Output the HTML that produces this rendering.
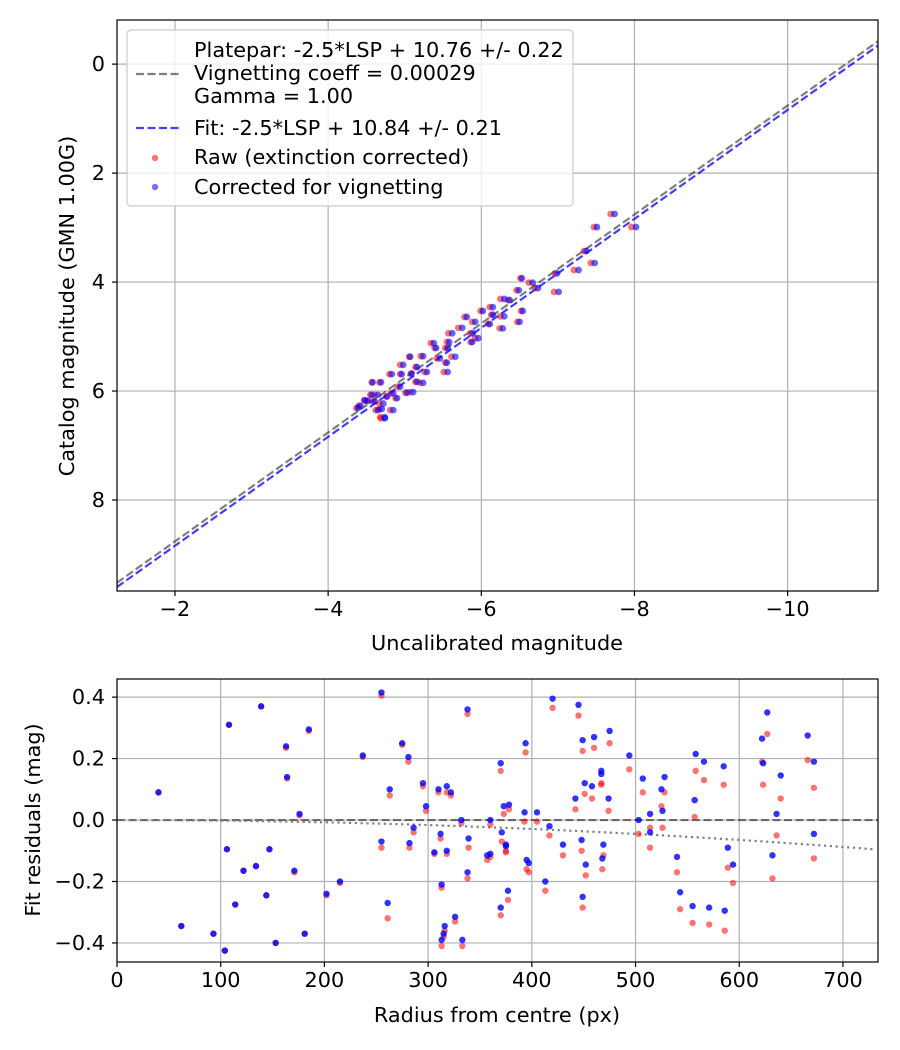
<!DOCTYPE html>
<html><head><meta charset="utf-8"><style>
html,body{margin:0;padding:0;background:#fff;}
svg{display:block;font-family:"DejaVu Sans","Liberation Sans",sans-serif;}
</style></head><body>
<svg id="fig" width="900" height="1050" viewBox="0 0 900 1050" xmlns="http://www.w3.org/2000/svg">
<rect width="900" height="1050" fill="#fff"/>
<g id="topPlot"></g>
<g id="botPlot"></g>
</svg>
<script>
// ---------- Top chart data ----------
const topXTicks = [-2, -4, -6, -8, -10];
const topYTicks = [0, 2, 4, 6, 8];
const plateparOffset = 10.76;
const fitOffset = 10.84;
const vignettingCoeff = 0.00029;
const uncalCorr = [-7.74,-7.51,-8.02,-7.37,-7.48,-7.27,-7.01,-6.99,-6.53,-6.67,-6.74,-6.49,-6.54,-6.50,-6.28,-6.30,-6.37,-6.15,-6.02,-6.30,-6.15,-5.81,-5.92,-5.75,-6.11,-5.89,-5.96,-5.88,-5.62,-5.58,-5.38,-5.41,-5.56,-5.66,-5.46,-5.55,-5.24,-5.07,-4.98,-5.16,-5.29,-5.56,-5.09,-4.96,-4.83,-5.24,-5.16,-4.58,-4.69,-4.94,-5.11,-5.03,-4.85,-4.77,-4.90,-4.65,-4.61,-4.52,-4.72,-4.85,-4.70,-4.74,-4.42,-4.48,-4.57,-4.74,-4.65,-4.39];
const catMag = [2.75,2.99,2.99,3.43,3.65,3.78,4.18,3.84,3.93,4.01,4.11,4.15,4.53,4.73,4.85,4.31,4.33,4.46,4.53,4.63,4.60,4.64,4.73,4.84,4.77,4.94,5.03,5.10,4.94,5.10,5.12,5.21,5.21,5.37,5.40,5.48,5.36,5.37,5.52,5.56,5.65,5.65,5.68,5.69,5.69,5.85,5.83,5.84,5.84,5.92,6.02,6.03,6.04,6.10,6.13,6.07,6.19,6.18,6.23,6.35,6.33,6.48,6.27,6.17,6.07,6.50,6.35,6.31];
const vigShift = [0.05,0.04,0.06,0.03,0.05,0.06,0.06,0.03,0.02,0.05,0.04,0.03,0.02,0.03,0.04,0.05,0.02,0.04,0.03,0.05,0.02,0.03,0.04,0.05,0.02,0.03,0.04,0.02,0.05,0.03,0.04,0.02,0.03,0.05,0.04,0.02,0.03,0.01,0.04,0.02,0.03,0.05,0.01,0.02,0.03,0.04,0.02,0.01,0.02,0.03,0.04,0.02,0.03,0.01,0.02,0.04,0.03,0.02,0.05,0.04,0.03,0.06,0.02,0.01,0.02,0.05,0.03,0.02];

// ---------- Bottom chart data ----------
const botXTicks = [0,100,200,300,400,500,600,700];
const botYTicks = [-0.4,-0.2,0.0,0.2,0.4];
const radius = [40,62,93,104,106,108,114,122,134,139,144,147,153,163,164,171,176,181,185,202,215,237,255,255,261,263,275,281,282,286,295,298,306,310,312,313,313,315,316,318,318,322,326,332,333,338,338,339,357,360,360,370,370,373,375,377,378,371,375,394,393,405,417,395,397,413,420,445,449,460,475,467,467,451,458,442,474,430,448,469,468,452,449,494,507,528,525,503,514,526,514,540,543,555,571,586,589,594,558,566,585,557,627,622,623,640,636,632,666,672,672];
const resCorr = [0.09,-0.345,-0.37,-0.425,-0.095,0.31,-0.275,-0.165,-0.15,0.37,-0.245,-0.095,-0.40,0.24,0.14,-0.165,0.02,-0.37,0.295,-0.24,-0.20,0.21,0.415,-0.07,-0.27,0.10,0.25,0.205,-0.075,-0.025,0.12,0.045,-0.105,0.10,-0.045,-0.21,-0.39,-0.37,-0.345,0.11,-0.10,0.09,-0.315,0.0,-0.39,0.36,-0.17,-0.06,-0.115,-0.11,0.0,0.185,-0.285,0.045,-0.085,-0.23,0.05,-0.04,-0.08,0.25,0.025,0.025,-0.02,-0.13,-0.14,-0.20,0.395,0.375,0.26,0.27,0.29,0.16,0.15,0.12,0.11,0.07,0.07,-0.08,-0.065,-0.08,-0.125,-0.145,-0.25,0.21,0.135,0.14,0.10,0.0,0.02,0.03,-0.04,-0.12,-0.235,-0.28,-0.285,-0.295,-0.09,-0.145,0.215,0.19,0.175,0.065,0.35,0.265,0.185,0.145,0.02,-0.115,0.275,0.19,-0.045];
const resRaw = [0.09,-0.345,-0.37,-0.425,-0.095,0.31,-0.275,-0.165,-0.15,0.37,-0.245,-0.095,-0.40,0.235,0.135,-0.17,0.015,-0.37,0.29,-0.245,-0.205,0.205,0.405,-0.09,-0.32,0.08,0.245,0.19,-0.09,-0.04,0.11,0.03,-0.11,0.09,-0.06,-0.22,-0.41,-0.38,-0.36,0.09,-0.11,0.08,-0.33,-0.01,-0.41,0.345,-0.19,-0.09,-0.13,-0.12,-0.015,0.16,-0.31,0.02,-0.10,-0.26,0.035,-0.07,-0.105,0.22,-0.005,-0.005,-0.05,-0.16,-0.17,-0.23,0.365,0.34,0.225,0.235,0.25,0.12,0.115,0.085,0.07,0.035,0.03,-0.115,-0.10,-0.115,-0.16,-0.18,-0.285,0.165,0.09,0.09,0.045,-0.045,-0.025,-0.025,-0.09,-0.17,-0.29,-0.335,-0.34,-0.36,-0.155,-0.205,0.16,0.13,0.115,0.01,0.28,0.19,0.115,0.07,-0.05,-0.19,0.195,0.105,-0.125];

const NS = "http://www.w3.org/2000/svg";
const FS = 20.8;
function mk(parent, tag, attrs, text){
  const e = document.createElementNS(NS, tag);
  for (const k in attrs) e.setAttribute(k, attrs[k]);
  if (text !== undefined) e.textContent = text;
  parent.appendChild(e);
  return e;
}
function fmtMinus(s){ return String(s).replace('-', '\u2212'); }

// ---------- TOP ----------
const T = {L:117,R:878,T:20,B:591, x0:-1.243, x1:-11.18, y0:-0.81, y1:9.67};
const tx = v => T.L + (v - T.x0)/(T.x1 - T.x0)*(T.R-T.L);
const ty = v => T.T + (v - T.y0)/(T.y1 - T.y0)*(T.B-T.T);
const topG = document.getElementById('topPlot');
mk(topG,'defs',{}).innerHTML = '<clipPath id="ct"><rect x="117" y="20" width="761" height="571"/></clipPath><clipPath id="cb"><rect x="117" y="679" width="761" height="283"/></clipPath>';
const tgrid = mk(topG,'g',{});


topXTicks.forEach(v=>{
  const x=tx(v);
  mk(tgrid,'line',{x1:x,x2:x,y1:T.T,y2:T.B,stroke:'#b0b0b0','stroke-width':1.2});
  mk(topG,'line',{x1:x,x2:x,y1:T.B,y2:T.B+5,stroke:'#000','stroke-width':1.2});
  const t=mk(topG,'text',{x:x,y:T.B+25,'text-anchor':'middle','font-size':FS},fmtMinus(v));
  
  
});
topYTicks.forEach(v=>{
  const y=ty(v);
  mk(tgrid,'line',{x1:T.L,x2:T.R,y1:y,y2:y,stroke:'#b0b0b0','stroke-width':1.2});
  mk(topG,'line',{x1:T.L-5,x2:T.L,y1:y,y2:y,stroke:'#000','stroke-width':1.2});
  const t=mk(topG,'text',{x:T.L-12,y:y+7,'text-anchor':'end','font-size':FS},fmtMinus(v));
  
  
});
const tl = mk(topG,'g',{'clip-path':'url(#ct)'});
const pp = mk(tl,'line',{x1:tx(T.x0),y1:ty(T.x0+plateparOffset),x2:tx(T.x1),y2:ty(T.x1+plateparOffset),stroke:'#000','stroke-opacity':0.5,'stroke-width':2.2,'stroke-dasharray':'8,3.5'});


const fl = mk(tl,'line',{x1:tx(T.x0),y1:ty(T.x0+fitOffset),x2:tx(T.x1),y2:ty(T.x1+fitOffset),stroke:'#0000ff','stroke-opacity':0.75,'stroke-width':2.2,'stroke-dasharray':'8,3.5'});


uncalCorr.forEach((v,i)=>{
  const c=mk(tl,'circle',{cx:tx(v+vigShift[i]),cy:ty(catMag[i]),r:3.4,fill:'#ff0000','fill-opacity':0.55});
  
  
});
uncalCorr.forEach((v,i)=>{
  const c=mk(tl,'circle',{cx:tx(v),cy:ty(catMag[i]),r:3.4,fill:'#0000ff','fill-opacity':0.6});
  
  
});
mk(topG,'rect',{x:T.L,y:T.T,width:T.R-T.L,height:T.B-T.T,fill:'none',stroke:'#000','stroke-width':1.2});
let lab=mk(topG,'text',{x:497,y:650,'text-anchor':'middle','font-size':FS},'Uncalibrated magnitude');


lab=mk(topG,'text',{x:0,y:0,'text-anchor':'middle','font-size':FS,transform:'translate(74,306) rotate(-90)'},'Catalog magnitude (GMN 1.00G)');


const lg = mk(topG,'g',{});


mk(lg,'rect',{x:127,y:30,width:446,height:176,rx:4,fill:'#fff','fill-opacity':0.8,stroke:'#cccccc','stroke-width':1.2});
mk(lg,'line',{x1:136,x2:180,y1:74,y2:74,stroke:'#000','stroke-opacity':0.5,'stroke-width':2.2,'stroke-dasharray':'8,3.5'});
mk(lg,'text',{x:194,y:57,'font-size':FS},'Platepar: -2.5*LSP + 10.76 +/- 0.22');
mk(lg,'text',{x:194,y:80,'font-size':FS},'Vignetting coeff = 0.00029');
mk(lg,'text',{x:194,y:103,'font-size':FS},'Gamma = 1.00');
mk(lg,'line',{x1:136,x2:180,y1:128,y2:128,stroke:'#0000ff','stroke-opacity':0.75,'stroke-width':2.2,'stroke-dasharray':'8,3.5'});
mk(lg,'text',{x:194,y:135,'font-size':FS},'Fit: -2.5*LSP + 10.84 +/- 0.21');
mk(lg,'circle',{cx:155,cy:158,r:3.2,fill:'#ff0000','fill-opacity':0.55});
mk(lg,'text',{x:194,y:164,'font-size':FS},'Raw (extinction corrected)');
mk(lg,'circle',{cx:155,cy:187,r:3.2,fill:'#0000ff','fill-opacity':0.55});
mk(lg,'text',{x:194,y:194,'font-size':FS},'Corrected for vignetting');

// ---------- BOTTOM ----------
const B = {L:117,R:878,T:679,B:962, x0:0, x1:733.8, y0:0.459, y1:-0.462};
const bx = v => B.L + (v - B.x0)/(B.x1 - B.x0)*(B.R-B.L);
const by = v => B.T + (v - B.y0)/(B.y1 - B.y0)*(B.B-B.T);
const botG = document.getElementById('botPlot');
botXTicks.forEach(v=>{
  const x=bx(v);
  mk(botG,'line',{x1:x,x2:x,y1:B.T,y2:B.B,stroke:'#b0b0b0','stroke-width':1.2});
  mk(botG,'line',{x1:x,x2:x,y1:B.B,y2:B.B+5,stroke:'#000','stroke-width':1.2});
  const t=mk(botG,'text',{x:x,y:B.B+25,'text-anchor':'middle','font-size':FS},String(v));
  
  
});
botYTicks.forEach(v=>{
  const y=by(v);
  mk(botG,'line',{x1:B.L,x2:B.R,y1:y,y2:y,stroke:'#b0b0b0','stroke-width':1.2});
  mk(botG,'line',{x1:B.L-5,x2:B.L,y1:y,y2:y,stroke:'#000','stroke-width':1.2});
  const t=mk(botG,'text',{x:B.L-12,y:y+7,'text-anchor':'end','font-size':FS},fmtMinus(v.toFixed(1)));
  
  
});
const bl = mk(botG,'g',{'clip-path':'url(#cb)'});
const zl = mk(bl,'line',{x1:B.L,x2:B.R,y1:by(0),y2:by(0),stroke:'#000','stroke-opacity':0.5,'stroke-width':2.2,'stroke-dasharray':'8,3.5'});


let d='';
for(let r=0;r<=B.x1;r+=5){
  const c=Math.cos(Math.atan(vignettingCoeff*r));
  const m=2.5*Math.log10(Math.pow(c,4));
  d+=(r?'L':'M')+bx(r).toFixed(1)+','+by(m).toFixed(1);
}
const vc = mk(bl,'path',{d:d,fill:'none',stroke:'#808080','stroke-width':2.2,'stroke-dasharray':'2.2,3.6'});


radius.forEach((r,i)=>{
  const c=mk(bl,'circle',{cx:bx(r),cy:by(resRaw[i]),r:3.2,fill:'#ff0000','fill-opacity':0.55});
  
  
});
radius.forEach((r,i)=>{
  const c=mk(bl,'circle',{cx:bx(r),cy:by(resCorr[i]),r:3.2,fill:'#0000ff','fill-opacity':0.8});
  
  
});
mk(botG,'rect',{x:B.L,y:B.T,width:B.R-B.L,height:B.B-B.T,fill:'none',stroke:'#000','stroke-width':1.2});
lab=mk(botG,'text',{x:497,y:1022,'text-anchor':'middle','font-size':FS},'Radius from centre (px)');


lab=mk(botG,'text',{x:0,y:0,'text-anchor':'middle','font-size':FS,transform:'translate(40,820) rotate(-90)'},'Fit residuals (mag)');


</script>
</body></html>
